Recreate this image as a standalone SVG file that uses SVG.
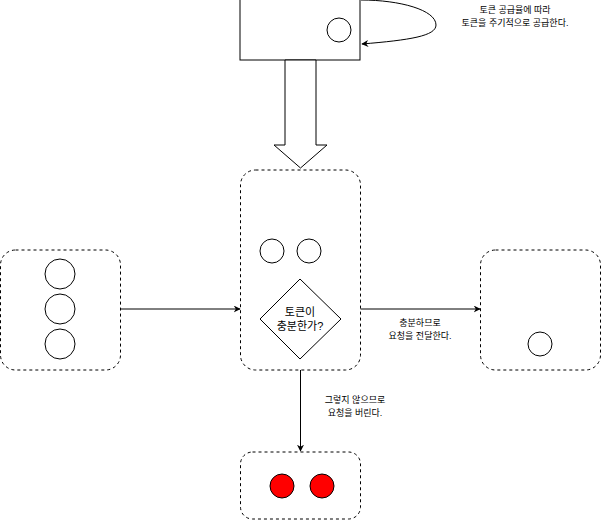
<svg xmlns="http://www.w3.org/2000/svg" width="601" height="520" viewBox="0 0 601 520">
<defs>
<style>
.box{fill:#fff;stroke:#000;stroke-width:1;stroke-dasharray:3 3}
.solid{fill:#fff;stroke:#000;stroke-width:1}
.tok{fill:#fff;stroke:#000;stroke-width:1}
.red{fill:#ff0000;stroke:#000;stroke-width:1}
.edge{fill:none;stroke:#000;stroke-width:1}
.lbl{font-family:"Liberation Sans","Noto Sans CJK KR",sans-serif;font-size:9px;fill:#000;text-anchor:middle}
.dl{font-family:"Liberation Sans","Noto Sans CJK KR",sans-serif;font-size:11px;fill:#000;text-anchor:middle}
</style>
<marker id="arr" viewBox="0 0 10 10" refX="9" refY="5" markerWidth="7" markerHeight="7" orient="auto" markerUnits="userSpaceOnUse">
<path d="M0,0 L10,5 L0,10 L3,5 Z" fill="#000"/>
</marker>
</defs>
<rect width="601" height="520" fill="#fff"/>
<g id="bucket">
<rect class="solid" x="240" y="-10" width="120" height="70"/>
<circle class="tok" cx="339" cy="30" r="12"/>
</g>
<g id="supply-label">
<text class="lbl" x="515" y="13">토큰 공급율에 따라</text>
<text class="lbl" x="515" y="26">토큰을 주기적으로 공급한다.</text>
</g>
<g id="block-arrow">
<polygon class="solid" points="285,60 316,60 316,145 327,145 300.5,168 274,145 285,145"/>
</g>
<g id="requests">
<rect class="box" x="0.5" y="250" width="120" height="120" rx="15"/>
<circle class="tok" cx="60" cy="274" r="15"/>
<circle class="tok" cx="60" cy="309" r="15"/>
<circle class="tok" cx="60" cy="344" r="15"/>
</g>
<g id="limiter">
<rect class="box" x="240.5" y="170" width="120" height="200" rx="15"/>
<circle class="tok" cx="272" cy="251" r="12"/>
<circle class="tok" cx="309" cy="251" r="12"/>
<polygon class="solid" points="300,279 341,319 300,359 260,319"/>
<text class="dl" x="300" y="316">토큰이</text>
<text class="dl" x="300" y="330">충분한가?</text>
</g>
<g id="forwarded">
<rect class="box" x="480.5" y="250" width="120" height="120" rx="15"/>
<circle class="tok" cx="540" cy="344" r="12"/>
</g>
<g id="dropped">
<rect class="box" x="240.5" y="452" width="120" height="67" rx="12"/>
<circle class="red" cx="282" cy="486" r="12"/>
<circle class="red" cx="322" cy="486" r="12"/>
</g>
<g id="connectors">
<path class="edge" d="M361 0 C400 0,436 10,436 25 C436 36,410 40,362 44" marker-end="url(#arr)"/>
<path class="edge" d="M120.5 309 L240 309" marker-end="url(#arr)"/>
<path class="edge" d="M360.5 309 L480 309" marker-end="url(#arr)"/>
<path class="edge" d="M300.5 370 L300.5 451" marker-end="url(#arr)"/>
</g>
<g id="edge-labels">
<text class="lbl" x="420" y="326">충분하므로</text>
<text class="lbl" x="420" y="339">요청을 전달한다.</text>
<text class="lbl" x="355" y="403">그렇지 않으므로</text>
<text class="lbl" x="355" y="416">요청을 버린다.</text>
</g>
</svg>
